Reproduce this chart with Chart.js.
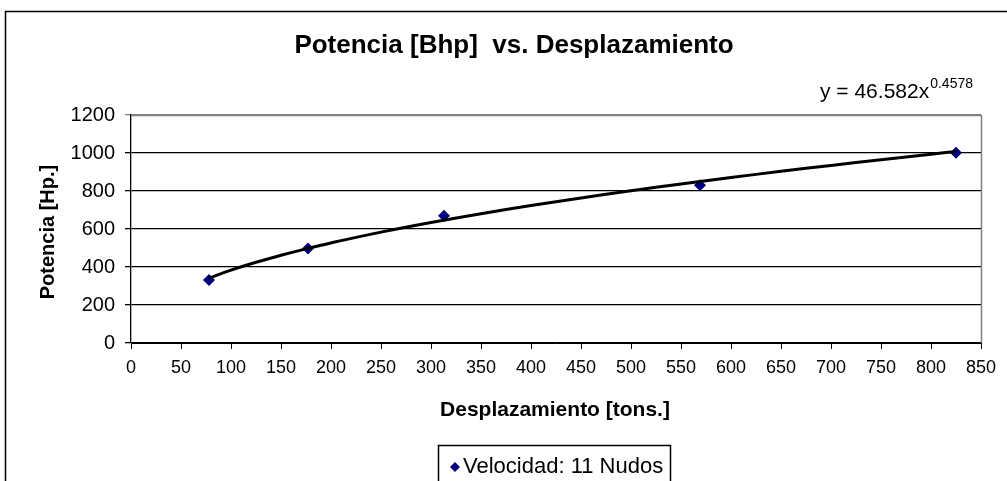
<!DOCTYPE html>
<html><head><meta charset="utf-8">
<script src="https://cdn.jsdelivr.net/npm/chart.js@4/dist/chart.umd.min.js"></script>
<style>html,body{margin:0;padding:0;background:#fff;}#wrap{width:1007px;height:481px;position:relative;}</style>
</head><body><div id="wrap"><canvas id="c" width="1007" height="481"></canvas></div>
<script>
const titleText = 'Potencia [Bhp]  vs. Desplazamiento';
const xTitle = 'Desplazamiento [tons.]';
const yTitle = 'Potencia [Hp.]';
const seriesLabel = 'Velocidad: 11 Nudos';
const desplazamiento = [78, 177, 313, 569, 825];
const potencia = [331, 497, 670, 830, 1001];
const trendCoef = 46.582;
const trendExp = 0.4578;
const trendX = [78, 100, 125, 150, 175, 200, 250, 300, 350, 400, 450, 500, 550, 600, 650, 700, 750, 800, 825];
const xTicks = [0, 850, 50];
const yTicks = [0, 1200, 200];

const FONT = '"Liberation Sans", Arial, sans-serif';
const trendData = trendX.map(x => ({x, y: trendCoef * Math.pow(x, trendExp)}));
const points = desplazamiento.map((x, i) => ({x, y: potencia[i]}));

const deco = {
  id: 'deco',
  afterDraw(chart) {
    const ctx = chart.ctx, a = chart.chartArea;
    ctx.save();
    // outer border
    ctx.strokeStyle = '#000'; ctx.lineWidth = 1.5;
    ctx.strokeRect(5.5, 11.5, 1010, 480);
    // plot border right & top (gray)
    ctx.strokeStyle = '#808080'; ctx.lineWidth = 1.5;
    ctx.beginPath(); ctx.moveTo(a.left, a.top + 0.5); ctx.lineTo(a.right + 0.5, a.top + 0.5); ctx.lineTo(a.right + 0.5, a.bottom); ctx.stroke();
    // title
    ctx.fillStyle = '#000'; ctx.textAlign = 'center'; ctx.textBaseline = 'middle';
    ctx.font = 'bold 26px ' + FONT;
    ctx.fillText(titleText, 514, 46);
    // axis titles
    ctx.font = 'bold 21px ' + FONT;
    ctx.fillText(xTitle, 555, 410);
    ctx.font = 'bold 20px ' + FONT;
    ctx.save(); ctx.translate(48, 232); ctx.rotate(-Math.PI / 2); ctx.fillText(yTitle, 0, 0); ctx.restore();
    // equation
    ctx.textAlign = 'left'; ctx.textBaseline = 'alphabetic';
    ctx.font = '21px ' + FONT;
    const eq = 'y = ' + trendCoef + 'x';
    ctx.fillText(eq, 820, 98);
    const w = ctx.measureText(eq).width;
    ctx.font = '14px ' + FONT;
    ctx.fillText(String(trendExp), 820 + w + 1, 88);
    // legend box
    ctx.strokeStyle = '#000'; ctx.lineWidth = 1.5;
    ctx.strokeRect(438.5, 445.5, 232, 50);
    ctx.fillStyle = '#000080';
    ctx.beginPath(); ctx.moveTo(455, 462); ctx.lineTo(460, 467); ctx.lineTo(455, 472); ctx.lineTo(450, 467); ctx.closePath(); ctx.fill();
    ctx.fillStyle = '#000'; ctx.font = '22px ' + FONT; ctx.textBaseline = 'middle';
    ctx.fillText(seriesLabel, 463, 467);
    ctx.restore();
  }
};

new Chart(document.getElementById('c'), {
  type: 'scatter',
  data: { datasets: [
    { type: 'line', label: 'trend', data: trendData, borderColor: '#000', borderWidth: 3, pointRadius: 0, tension: 0.4, fill: false, order: 0 },
    { label: seriesLabel, data: points, pointStyle: 'rectRot', pointRadius: 6, backgroundColor: '#000080', borderColor: '#000080', borderWidth: 0, order: 1 }
  ]},
  options: {
    responsive: false, animation: false, devicePixelRatio: 1,
    layout: { padding: { left: 0, top: 115, right: 26, bottom: 0 } },
    plugins: { legend: { display: false }, title: { display: false }, tooltip: { enabled: false } },
    scales: {
      x: {
        type: 'linear', min: xTicks[0], max: xTicks[1],
        ticks: { stepSize: xTicks[2], color: '#000', font: { family: FONT, size: 18 }, padding: 8, maxRotation: 0, autoSkip: false, callback: v => String(v) },
        grid: { drawOnChartArea: false, drawTicks: true, tickLength: 6, color: '#000' },
        border: { color: '#000', width: 1 },
        afterFit(s) { s.height = 138; }
      },
      y: {
        type: 'linear', min: yTicks[0], max: yTicks[1],
        ticks: { stepSize: yTicks[2], color: '#000', font: { family: FONT, size: 20 }, padding: 10, callback: v => String(v) },
        grid: { color: c => c.tick && c.tick.value === yTicks[1] ? '#808080' : '#000', lineWidth: 1.3, tickLength: 6 },
        border: { color: '#000', width: 1.3 },
        afterFit(s) { s.width = 131; }
      }
    }
  },
  plugins: [deco]
});
</script></body></html>
